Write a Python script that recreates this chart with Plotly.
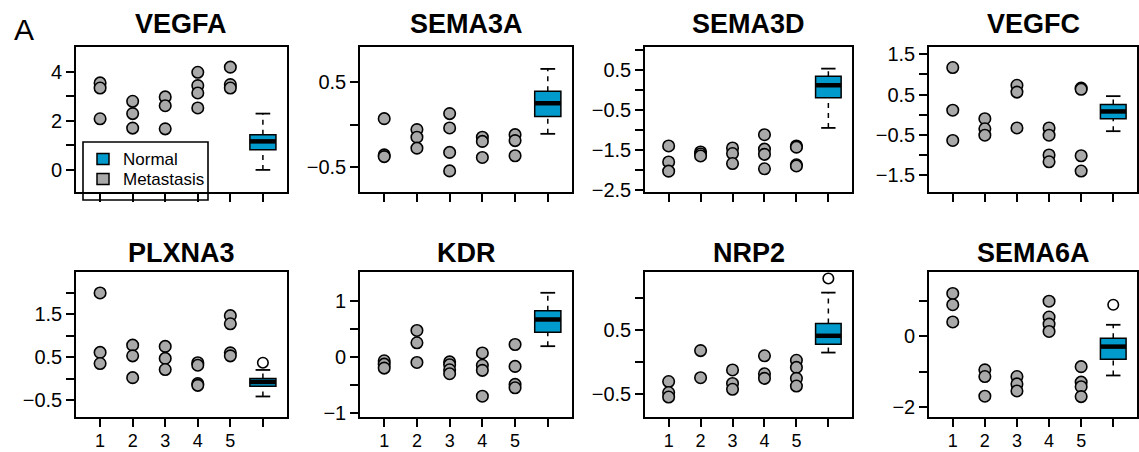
import plotly.graph_objects as go

FONT = "Liberation Sans, Arial, sans-serif"
NORMAL_COLOR = "#009ACD"
MET_COLOR = "#A9A9A9"

genes = ["VEGFA", "SEMA3A", "SEMA3D", "VEGFC", "PLXNA3", "KDR", "NRP2", "SEMA6A"]
groups = [1, 2, 3, 4, 5]
normal_pos = 6
legend_labels = ["Normal", "Metastasis"]
legend_colors = [NORMAL_COLOR, MET_COLOR]

# Metastasis samples, one list per group 1..5
vegfa_met = [[3.54, 3.33, 2.08], [2.79, 2.29, 1.70], [2.97, 2.61, 1.67], [3.97, 3.43, 3.13, 2.52], [4.18, 3.47, 3.33]]
sema3a_met = [[0.07, -0.36, -0.38], [-0.06, -0.15, -0.28], [0.13, -0.04, -0.33, -0.55], [-0.15, -0.20, -0.39], [-0.12, -0.19, -0.37]]
sema3d_met = [[-1.39, -1.79, -2.02], [-1.54, -1.59, -1.64], [-1.44, -1.58, -1.83], [-1.11, -1.47, -1.60, -1.96], [-1.39, -1.42, -1.86, -1.89]]
vegfc_met = [[1.17, 0.11, -0.64], [-0.10, -0.35, -0.51], [0.73, 0.56, -0.33], [-0.33, -0.51, -1.00, -1.17], [0.66, 0.63, -1.02, -1.40]]
plxna3_met = [[2.00, 0.61, 0.35], [0.78, 0.53, 0.02], [0.75, 0.47, 0.21], [0.37, 0.31, -0.12, -0.16], [1.47, 1.28, 0.60, 0.53]]
kdr_met = [[-0.07, -0.13, -0.20], [0.47, 0.25, -0.10], [-0.09, -0.14, -0.23, -0.30], [0.07, -0.15, -0.24, -0.70], [0.22, -0.17, -0.49, -0.55]]
nrp2_met = [[-0.30, -0.47, -0.54], [0.18, -0.24], [-0.12, -0.33, -0.42], [0.10, -0.18, -0.25], [0.03, -0.08, -0.25, -0.37]]
sema6a_met = [[1.22, 0.90, 0.41], [-0.95, -1.14, -1.70], [-1.14, -1.35, -1.55], [1.00, 0.55, 0.35, 0.14], [-0.86, -1.30, -1.43, -1.71]]
metastasis = [vegfa_met, sema3a_met, sema3d_met, vegfc_met, plxna3_met, kdr_met, nrp2_met, sema6a_met]

# Normal boxplot stats: lower whisker, q1, median, q3, upper whisker
normal_lower = [0.00, -0.11, -0.94, -0.41, -0.42, 0.19, 0.15, -1.11]
normal_q1 = [0.82, 0.095, -0.19, -0.10, -0.18, 0.44, 0.28, -0.65]
normal_median = [1.16, 0.253, 0.125, 0.08, -0.08, 0.665, 0.41, -0.29]
normal_q3 = [1.43, 0.395, 0.35, 0.25, 0.00, 0.82, 0.60, -0.05]
normal_upper = [2.29, 0.66, 0.54, 0.46, 0.20, 1.14, 1.08, 0.33]
normal_outliers = [[], [], [], [], [0.37], [], [1.30], [0.90]]

y_ranges = [[-0.9, 5.0], [-0.80, 0.92], [-2.54, 1.08], [-1.92, 1.68],
            [-0.90, 2.49], [-1.07, 1.51], [-0.85, 1.40], [-2.29, 1.83]]
y_tickvals = [[0, 1, 2, 3, 4], [-0.5, 0, 0.5], [-2.5, -2, -1.5, -1, -0.5, 0, 0.5, 1.0],
              [-1.5, -1, -0.5, 0, 0.5, 1, 1.5], [-0.5, 0, 0.5, 1, 1.5, 2],
              [-1, -0.5, 0, 0.5, 1], [-0.5, 0, 0.5, 1], [-2, -1, 0, 1]]
y_ticktext = [["0", "", "2", "", "4"], ["\u22120.5", "", "0.5"],
              ["\u22122.5", "", "\u22121.5", "", "\u22120.5", "", "0.5", ""],
              ["\u22121.5", "", "\u22120.5", "", "0.5", "", "1.5"],
              ["\u22120.5", "", "0.5", "", "1.5", ""],
              ["\u22121", "", "0", "", "1"], ["\u22120.5", "", "0.5", ""],
              ["\u22122", "", "0", ""]]
x_tickvals = [1, 2, 3, 4, 5, 6]
x_ticktext = ["1", "2", "3", "4", "5", ""]

W, H = 1139, 452
col_px = [(76, 287), (360, 572), (645, 852), (929, 1137)]
row_px = [(47, 192), (272, 417)]
BOX_W = 0.8
CAP_W = 0.45

fig = go.Figure()
layout = dict(width=W, height=H, margin=dict(l=0, r=0, t=0, b=0, pad=0, autoexpand=False),
              paper_bgcolor="white", plot_bgcolor="rgba(0,0,0,0)",
              font=dict(family=FONT, color="black"), showlegend=False)
annotations = []
shapes = []


def px_x(p):
    return p / W


def px_y(p):
    return 1 - p / H


for i, gene in enumerate(genes):
    r, c = divmod(i, 4)
    n = i + 1
    xa = "x" if n == 1 else f"x{n}"
    ya = "y" if n == 1 else f"y{n}"
    x0, x1 = col_px[c]
    yt, yb = row_px[r]
    axis_common = dict(showline=True, mirror=True, linecolor="black", linewidth=1.6,
                       ticks="outside", ticklen=8, tickwidth=1.6, tickcolor="black",
                       showgrid=False, zeroline=False, automargin=False)
    layout[f"xaxis{n}"] = dict(domain=[px_x(x0), px_x(x1)], anchor=ya, range=[0.26, 6.74],
                               tickmode="array", tickvals=x_tickvals,
                               ticktext=x_ticktext if r == 1 else [""] * 6,
                               tickfont=dict(family=FONT, size=18, color="black"),
                               ticklabelstandoff=-1,
                               **axis_common)
    layout[f"yaxis{n}"] = dict(domain=[px_y(yb), px_y(yt)], anchor=xa, range=y_ranges[i],
                               tickmode="array", tickvals=y_tickvals[i], ticktext=y_ticktext[i],
                               tickfont=dict(family=FONT, size=20, color="black"),
                               **axis_common)

    # Metastasis points
    xs, ys = [], []
    for g, vals in zip(groups, metastasis[i]):
        xs += [g] * len(vals)
        ys += vals
    fig.add_trace(go.Scatter(x=xs, y=ys, mode="markers", xaxis=xa, yaxis=ya, showlegend=False,
                             marker=dict(size=11.5, color=MET_COLOR, line=dict(color="black", width=1.6))))

    # Normal whiskers (dashed) and caps
    lo, q1, med, q3, hi = normal_lower[i], normal_q1[i], normal_median[i], normal_q3[i], normal_upper[i]
    for a, b in [(q3, hi), (lo, q1)]:
        fig.add_trace(go.Scatter(x=[normal_pos, normal_pos], y=[a, b], mode="lines", xaxis=xa, yaxis=ya,
                                 showlegend=False, line=dict(color="black", width=1.5, dash="5px,5px")))
    for v in (lo, hi):
        fig.add_trace(go.Scatter(x=[normal_pos - CAP_W / 2, normal_pos + CAP_W / 2], y=[v, v], mode="lines",
                                 xaxis=xa, yaxis=ya, showlegend=False, line=dict(color="black", width=1.8)))
    # Normal box
    fig.add_trace(go.Box(x=[normal_pos], q1=[q1], median=[med], q3=[q3], lowerfence=[q1], upperfence=[q3],
                         width=BOX_W, whiskerwidth=0, fillcolor=NORMAL_COLOR, boxpoints=False,
                         line=dict(color="black", width=1.5), xaxis=xa, yaxis=ya, showlegend=False))
    fig.add_trace(go.Scatter(x=[normal_pos - BOX_W / 2, normal_pos + BOX_W / 2], y=[med, med], mode="lines",
                             xaxis=xa, yaxis=ya, showlegend=False, line=dict(color="black", width=4.5)))
    if normal_outliers[i]:
        fig.add_trace(go.Scatter(x=[normal_pos] * len(normal_outliers[i]), y=normal_outliers[i], mode="markers",
                                 xaxis=xa, yaxis=ya, showlegend=False,
                                 marker=dict(size=10.5, color="white", line=dict(color="black", width=1.6))))

    # Title
    title_y = [24, 253][r]
    annotations.append(dict(text=f"<b>{gene}</b>", x=px_x((x0 + x1) / 2), y=px_y(title_y),
                            xref="paper", yref="paper", xanchor="center", yanchor="middle",
                            showarrow=False, font=dict(family=FONT, size=27, color="black")))

# Legend (drawn in the first panel, like R's legend())
shapes.append(dict(type="rect", xref="paper", yref="paper", layer="below",
                   x0=px_x(83), x1=px_x(208), y0=px_y(200), y1=px_y(142),
                   line=dict(color="black", width=1.6), fillcolor="white"))
for k, (lab, col) in enumerate(zip(legend_labels, legend_colors)):
    cy = 159 + 20 * k
    shapes.append(dict(type="rect", xref="paper", yref="paper", layer="above",
                       x0=px_x(97), x1=px_x(109), y0=px_y(cy + 5.5), y1=px_y(cy - 5.5),
                       line=dict(color="black", width=1.5), fillcolor=col))
    annotations.append(dict(text=lab, x=px_x(121), y=px_y(cy), xref="paper", yref="paper",
                            xanchor="left", yanchor="middle", showarrow=False,
                            font=dict(family=FONT, size=17, color="black")))

annotations.append(dict(text="A", x=px_x(12), y=px_y(29), xref="paper", yref="paper", xanchor="left",
                        yanchor="middle", showarrow=False, font=dict(family=FONT, size=30, color="black")))

layout["annotations"] = annotations
layout["shapes"] = shapes
fig.update_layout(**layout)
fig.write_html("out.html", config={"displayModeBar": False},
               post_script="document.body.style.margin='0px';document.body.style.padding='0px';")
